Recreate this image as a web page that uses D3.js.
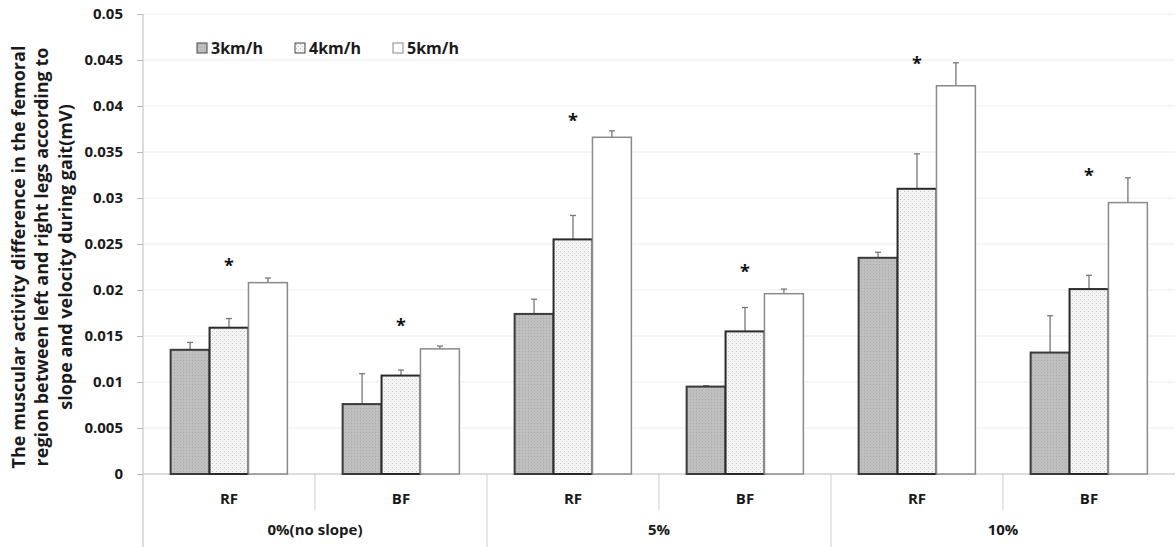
<!DOCTYPE html>
<html>
<head>
<meta charset="utf-8">
<script src="https://cdn.jsdelivr.net/npm/d3@7"></script>
<style>
  body { margin: 0; background: #fff; }
  svg { font-family: "Open Sans", "DejaVu Sans", sans-serif; }
</style>
</head>
<body>
<svg id="drawing_region"></svg>
<script>
// chart data
const muscles = ["RF", "BF", "RF", "BF", "RF", "BF"];
const slopes = ["0%(no slope)", "5%", "10%"];
const speeds = ["3km/h", "4km/h", "5km/h"];
const speed3 = [0.0135, 0.0076, 0.0174, 0.0095, 0.0235, 0.0132];
const speed4 = [0.0159, 0.0107, 0.0255, 0.0155, 0.0310, 0.0201];
const speed5 = [0.0208, 0.0136, 0.0366, 0.0196, 0.0422, 0.0295];
const err3 = [0.0008, 0.0033, 0.0016, 0.0001, 0.0006, 0.0040];
const err4 = [0.0010, 0.0006, 0.0026, 0.0026, 0.0038, 0.0015];
const err5 = [0.0005, 0.0003, 0.0007, 0.0005, 0.0025, 0.0027];
const starLevel = [0.0230, 0.0165, 0.0388, 0.0224, 0.0450, 0.0328];
const yTicks = [0, 0.005, 0.01, 0.015, 0.02, 0.025, 0.03, 0.035, 0.04, 0.045, 0.05];

const config = {
    width: 1176,
    height: 547,
    margin: {top: 14, right: 1, bottom: 73, left: 143}
};

const svg = d3.select('#drawing_region')
    .attr('width', config.width)
    .attr('height', config.height);

const inner_width = config.width - config.margin.left - config.margin.right;
const inner_height = config.height - config.margin.top - config.margin.bottom;

// patterns for bar fills
const defs = svg.append('defs');
const p3 = defs.append('pattern').attr('id', 'pat3')
    .attr('width', 3).attr('height', 3).attr('patternUnits', 'userSpaceOnUse');
p3.append('rect').attr('width', 3).attr('height', 3).attr('fill', '#bfbfbf');
p3.append('rect').attr('x', 1).attr('y', 1).attr('width', 1).attr('height', 1).attr('fill', '#a9a9a9');
const p4 = defs.append('pattern').attr('id', 'pat4')
    .attr('width', 4).attr('height', 4).attr('patternUnits', 'userSpaceOnUse');
p4.append('rect').attr('width', 4).attr('height', 4).attr('fill', '#f4f4f4');
p4.append('rect').attr('x', 1).attr('y', 1).attr('width', 1).attr('height', 1).attr('fill', '#c4c4c4');
p4.append('rect').attr('x', 3).attr('y', 3).attr('width', 1).attr('height', 1).attr('fill', '#d4d4d4');

const fills = ['url(#pat3)', 'url(#pat4)', '#ffffff'];
const strokes = ['#3a3a3a', '#2a2a2a', '#8a8a8a'];

const chart = svg.append('g')
    .attr('transform', `translate(${config.margin.left}, ${config.margin.top})`);

const yscale = d3.scaleLinear().domain([0, 0.05]).range([inner_height, 0]);
const xscale = d3.scaleBand().domain(d3.range(muscles.length)).range([0, inner_width]).padding(0);
const sscale = d3.scaleBand().domain(d3.range(speeds.length))
    .range([0, xscale.bandwidth()]).paddingInner(0).paddingOuter(0.71);

// gridlines
chart.append('g')
    .selectAll('line').data(yTicks.slice(1)).join('line')
    .attr('x1', 0).attr('x2', inner_width)
    .attr('y1', d => yscale(d)).attr('y2', d => yscale(d))
    .attr('stroke', '#ececec').attr('stroke-width', 1);

// y axis
const yaxis = d3.axisLeft(yscale).tickValues(yTicks)
    .tickFormat(d => d === 0 ? '0' : d3.format('')(+d.toFixed(3)))
    .tickSize(6).tickSizeOuter(0).tickPadding(14);
const yaxis_group = chart.append('g').call(yaxis);
yaxis_group.select('.domain').remove();
yaxis_group.selectAll('.tick line').attr('stroke', '#bbb');
yaxis_group.selectAll('text')
    .attr('font-size', 15).attr('font-weight', 'bold').attr('fill', '#1a1a1a')
    .attr('font-family', '"Open Sans", sans-serif');

// y axis line running down through the category area
svg.append('line')
    .attr('x1', config.margin.left).attr('x2', config.margin.left)
    .attr('y1', config.margin.top).attr('y2', config.height)
    .attr('stroke', '#bbb');

// x baseline
chart.append('line')
    .attr('x1', 0).attr('x2', inner_width)
    .attr('y1', inner_height).attr('y2', inner_height)
    .attr('stroke', '#bbb');

// category separators
chart.append('g')
    .selectAll('line').data(d3.range(1, muscles.length)).join('line')
    .attr('x1', d => xscale(d)).attr('x2', d => xscale(d))
    .attr('y1', inner_height)
    .attr('y2', d => d % 2 === 0 ? config.height - config.margin.top : inner_height + 36)
    .attr('stroke', '#ccc');

// muscle labels
chart.append('g')
    .selectAll('text').data(muscles).join('text')
    .attr('x', (d, i) => xscale(i) + xscale.bandwidth() / 2)
    .attr('y', inner_height + 30)
    .attr('text-anchor', 'middle')
    .attr('font-size', 15).attr('font-weight', 'bold').attr('fill', '#1a1a1a')
    .text(d => d);

// slope labels
chart.append('g')
    .selectAll('text').data(slopes).join('text')
    .attr('x', (d, i) => xscale(i * 2) + xscale.bandwidth())
    .attr('y', inner_height + 61)
    .attr('text-anchor', 'middle')
    .attr('font-size', 15).attr('font-weight', 'bold').attr('fill', '#1a1a1a')
    .text(d => d);

// bars
const series = [speed3, speed4, speed5];
const errors = [err3, err4, err5];

series.forEach((vals, s) => {
    const g = chart.append('g');
    // error bars (upper only)
    g.selectAll('line.err').data(vals).join('line')
        .attr('class', 'err')
        .attr('x1', (d, i) => xscale(i) + sscale(s) + sscale.bandwidth() / 2)
        .attr('x2', (d, i) => xscale(i) + sscale(s) + sscale.bandwidth() / 2)
        .attr('y1', d => yscale(d))
        .attr('y2', (d, i) => yscale(d + errors[s][i]))
        .attr('stroke', '#777').attr('stroke-width', 1.3);
    g.selectAll('line.cap').data(vals).join('line')
        .attr('class', 'cap')
        .attr('x1', (d, i) => xscale(i) + sscale(s) + sscale.bandwidth() / 2 - 3)
        .attr('x2', (d, i) => xscale(i) + sscale(s) + sscale.bandwidth() / 2 + 3)
        .attr('y1', (d, i) => yscale(d + errors[s][i]))
        .attr('y2', (d, i) => yscale(d + errors[s][i]))
        .attr('stroke', '#777').attr('stroke-width', 1.3);
    g.selectAll('rect').data(vals).join('rect')
        .attr('x', (d, i) => xscale(i) + sscale(s))
        .attr('y', d => yscale(d))
        .attr('width', sscale.bandwidth())
        .attr('height', d => inner_height - yscale(d))
        .attr('fill', fills[s])
        .attr('stroke', strokes[s])
        .attr('stroke-width', s === 2 ? 1.5 : 2);
});

// significance stars above the 4km/h bar
chart.append('g')
    .selectAll('text').data(starLevel).join('text')
    .attr('x', (d, i) => xscale(i) + sscale(1) + sscale.bandwidth() / 2)
    .attr('y', d => yscale(d) + 10)
    .attr('text-anchor', 'middle')
    .attr('font-size', 18).attr('font-weight', 'bold').attr('fill', '#111')
    .text('*');

// legend
const legend = svg.append('g').attr('transform', 'translate(197, 43)');
const legendX = [0, 98, 196];
speeds.forEach((name, s) => {
    const item = legend.append('g').attr('transform', `translate(${legendX[s]}, 0)`);
    item.append('rect')
        .attr('x', 0).attr('y', 0).attr('width', 10).attr('height', 10)
        .attr('fill', fills[s]).attr('stroke', s === 2 ? '#888' : '#444').attr('stroke-width', 1);
    item.append('text')
        .attr('x', 14).attr('y', 10.5)
        .attr('font-size', 16).attr('font-weight', 'bold').attr('fill', '#1a1a1a')
        .text(name);
});

// y axis title
const titleLines = [
    "The muscular activity difference in the femoral",
    "region between left and right legs according to",
    "slope and velocity during gait(mV)"
];
svg.append('g')
    .attr('transform', 'translate(42, 257) rotate(-90)')
    .selectAll('text').data(titleLines).join('text')
    .attr('x', 0)
    .attr('y', (d, i) => (i - 1) * 23.5 + 6)
    .attr('text-anchor', 'middle')
    .attr('font-size', 18).attr('font-weight', 'bold').attr('fill', '#1a1a1a')
    .text(d => d);
</script>
</body>
</html>
